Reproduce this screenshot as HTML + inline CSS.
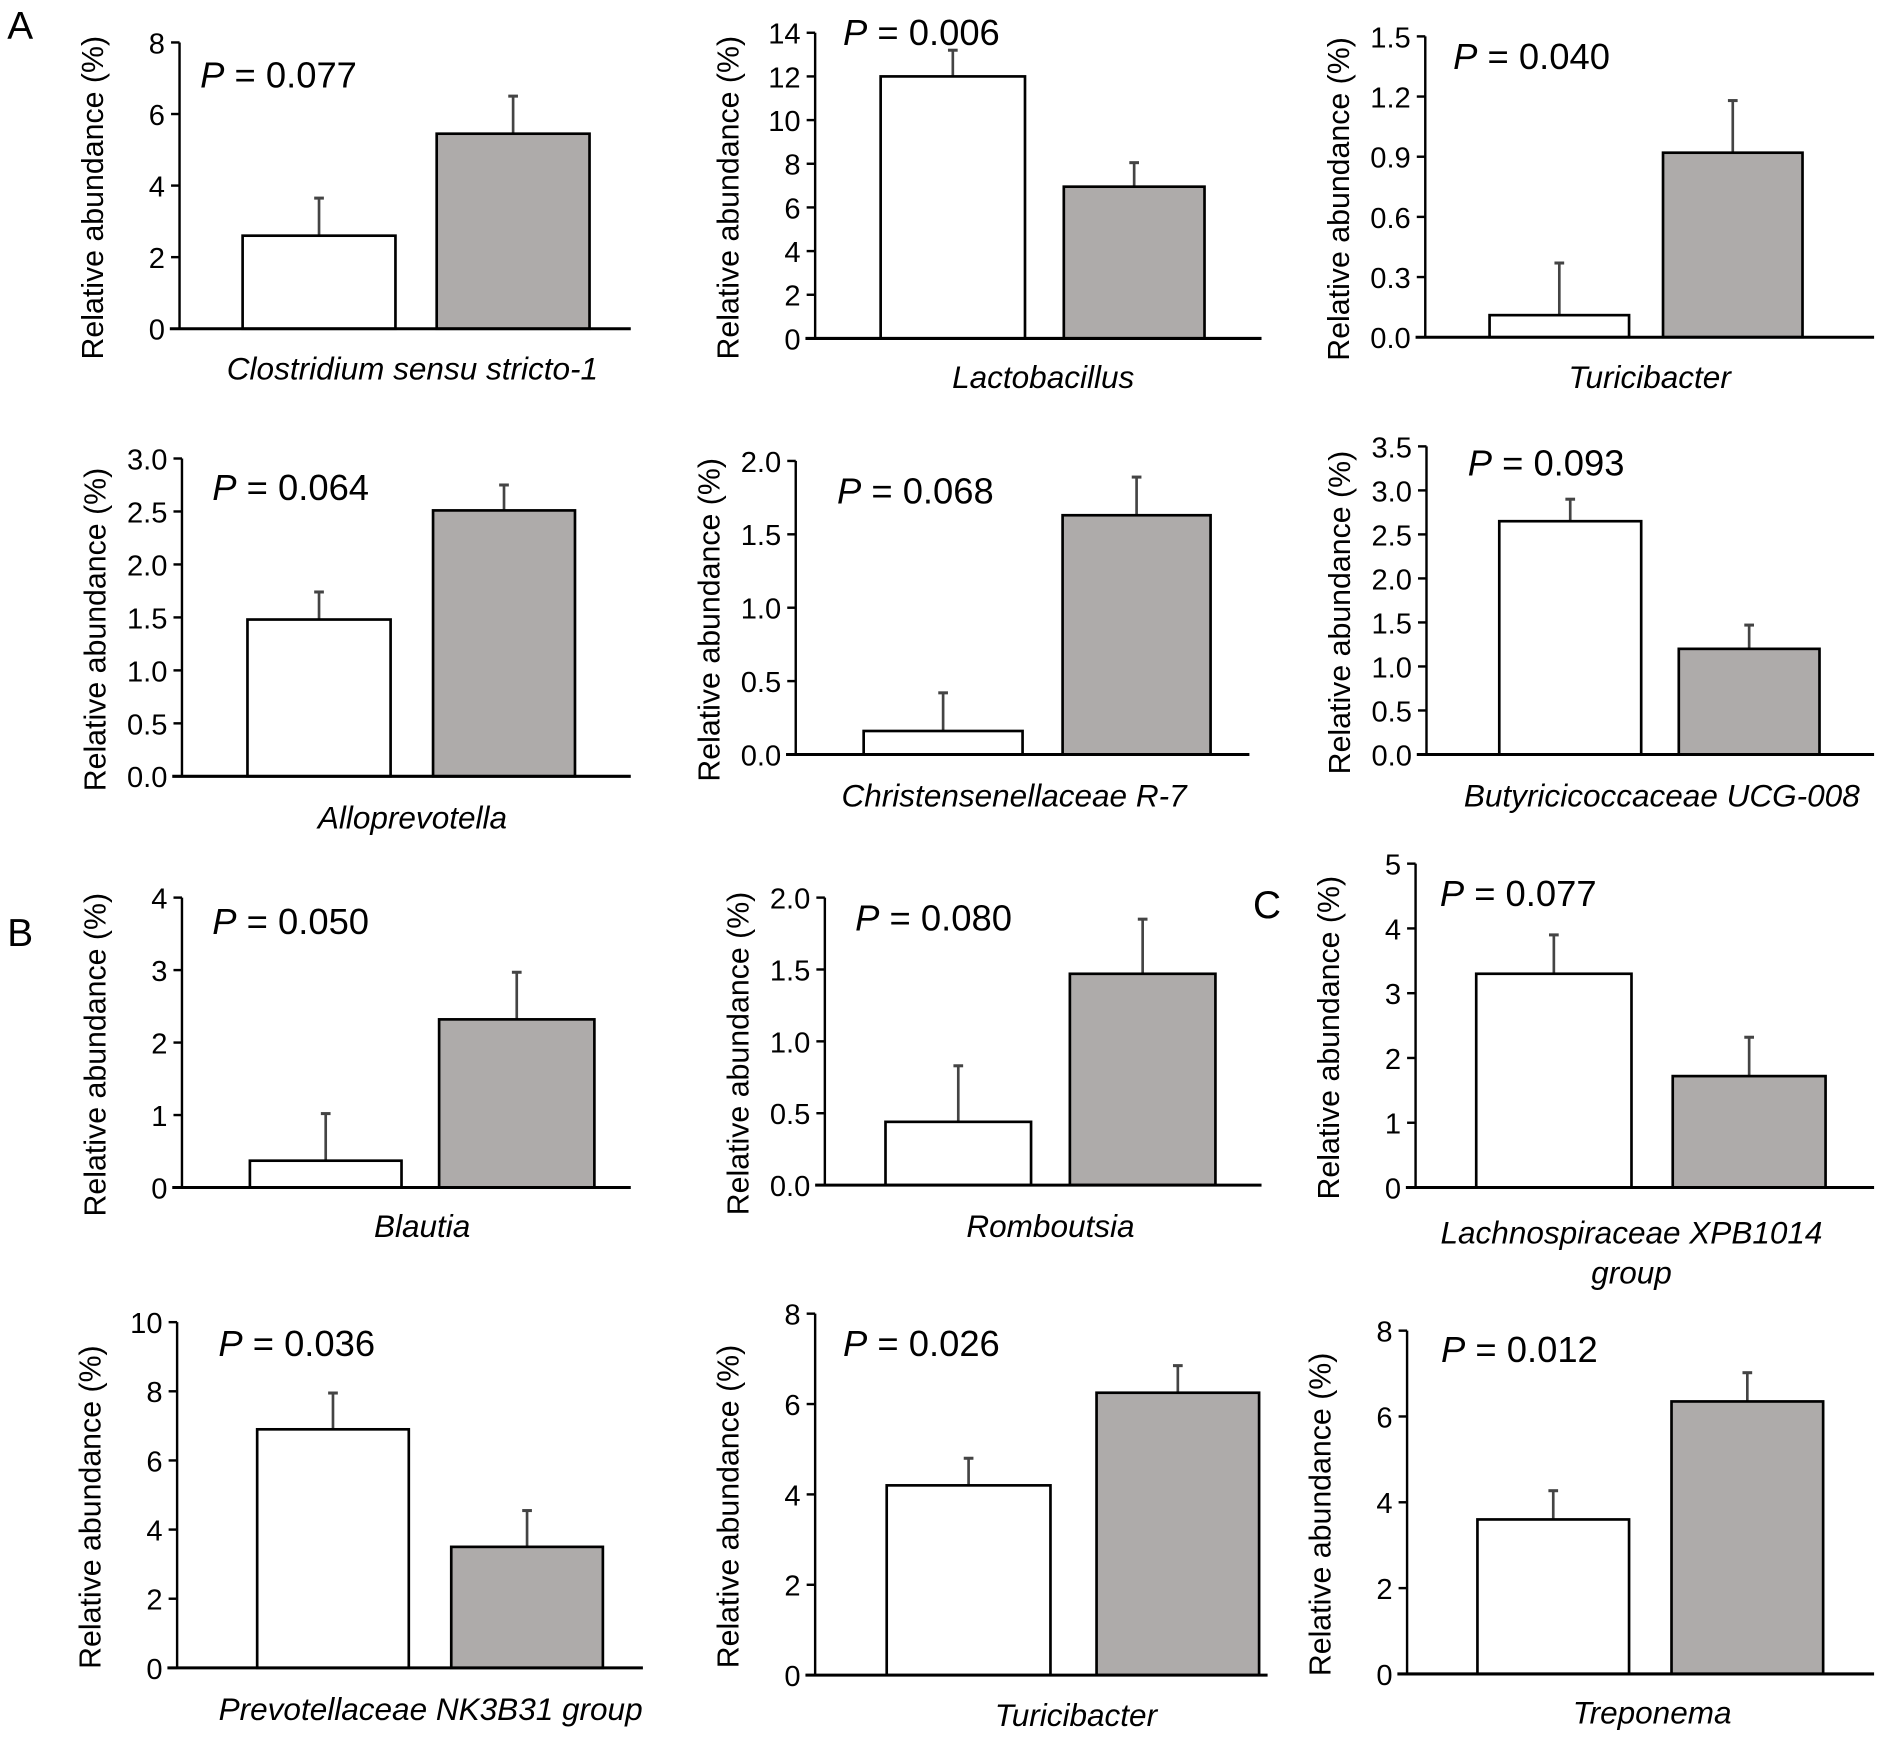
<!DOCTYPE html>
<html><head><meta charset="utf-8"><style>
html,body{margin:0;padding:0;background:#fff}
svg{display:block}
text{font-family:"Liberation Sans",Arial,sans-serif;fill:#000}
</style></head><body>
<svg id="fig" width="1902" height="1737" viewBox="0 0 1568 1432" xmlns="http://www.w3.org/2000/svg">
<text x="6" y="32" font-size="32">A</text>
<text x="6" y="780" font-size="32">B</text>
<text x="1033" y="757" font-size="32">C</text>
</svg>
<script>
const taxa = ["Clostridium sensu stricto-1","Lactobacillus","Turicibacter","Alloprevotella","Christensenellaceae R-7","Butyricicoccaceae UCG-008","Blautia","Romboutsia","Lachnospiraceae XPB1014|group","Prevotellaceae NK3B31 group","Turicibacter","Treponema"];
const pValues = ["0.077","0.006","0.040","0.064","0.068","0.093","0.050","0.080","0.077","0.036","0.026","0.012"];
const controlMeans = [2.6,12.0,0.11,1.48,0.16,2.65,0.37,0.44,3.3,6.9,4.2,3.6];
const controlErr = [1.05,1.2,0.26,0.26,0.26,0.25,0.65,0.39,0.6,1.05,0.6,0.67];
const treatMeans = [5.45,6.95,0.92,2.51,1.63,1.2,2.32,1.47,1.72,3.5,6.25,6.35];
const treatErr = [1.05,1.1,0.26,0.24,0.26,0.27,0.65,0.38,0.6,1.05,0.6,0.67];
const yMax = [8,14,1.5,3.0,2.0,3.5,4,2.0,5,10,8,8];
const yStep = [2,2,0.3,0.5,0.5,0.5,1,0.5,1,2,2,2];
const yDecimals = [0,0,1,1,1,1,0,1,0,0,0,0];

// layout (not data)
const L = [
 {ax:148,top:35,bot:271,xe:520,b1:[200,326],b2:[360,486],px:165,py:72,lx:340,ly:313},
 {ax:672,top:27,bot:279,xe:1040,b1:[726,845],b2:[877,993],px:695,py:37,lx:860,ly:320},
 {ax:1175,top:30,bot:278,xe:1545,b1:[1228,1343],b2:[1371,1486],px:1198,py:57,lx:1360,ly:320},
 {ax:150,top:378,bot:640,xe:520,b1:[204,322],b2:[357,474],px:175,py:412,lx:340,ly:683},
 {ax:656,top:380,bot:622,xe:1030,b1:[712,843],b2:[876,998],px:690,py:415,lx:836,ly:665},
 {ax:1176,top:368,bot:622,xe:1545,b1:[1236,1353],b2:[1384,1500],px:1210,py:392,lx:1370,ly:665},
 {ax:150,top:740,bot:979,xe:520,b1:[206,331],b2:[362,490],px:175,py:770,lx:348,ly:1020},
 {ax:680,top:740,bot:977,xe:1040,b1:[730,850],b2:[882,1002],px:705,py:767,lx:866,ly:1020},
 {ax:1167,top:712,bot:979,xe:1545,b1:[1217,1345],b2:[1379,1505],px:1187,py:747,lx:1345,ly:1025},
 {ax:146,top:1090,bot:1375,xe:530,b1:[212,337],b2:[372,497],px:180,py:1118,lx:355,ly:1418},
 {ax:672,top:1083,bot:1381,xe:1045,b1:[731,866],b2:[904,1038],px:695,py:1118,lx:887,ly:1423},
 {ax:1160,top:1097,bot:1380,xe:1545,b1:[1218,1343],b2:[1378,1503],px:1188,py:1123,lx:1362,ly:1421}
];
const NS="http://www.w3.org/2000/svg";
const svg=document.getElementById('fig');
function mk(tag,attrs,parent){const e=document.createElementNS(NS,tag);for(const k in attrs)e.setAttribute(k,attrs[k]);(parent||svg).appendChild(e);return e;}
taxa.forEach((name,i)=>{
  const l=L[i];
  const g=mk('g',{});
  
  
  const y=v=>l.bot-(v/yMax[i])*(l.bot-l.top);
  [[controlMeans,controlErr,l.b1,'#fff','control'],[treatMeans,treatErr,l.b2,'#aeabaa','treatment']].forEach(([m,e,b,fill,nm])=>{
    const top=y(m[i]), et=y(m[i]+e[i]), cx=(b[0]+b[1])/2;
    const ln=mk('line',{x1:cx,x2:cx,y1:top,y2:et,stroke:'#444','stroke-width':2.2},g);
    
    
    const cap=mk('line',{x1:cx-4,x2:cx+4,y1:et,y2:et,stroke:'#444','stroke-width':2.5},g);
    
    
    const r=mk('rect',{x:b[0],y:top,width:b[1]-b[0],height:l.bot-top,fill:fill,stroke:'#000','stroke-width':2.2},g);
    
    
  });
  const ya=mk('line',{x1:l.ax,x2:l.ax,y1:l.top,y2:l.bot,stroke:'#000','stroke-width':2},g);
  
  
  const xa=mk('line',{x1:l.ax-8,x2:l.xe,y1:l.bot,y2:l.bot,stroke:'#000','stroke-width':2.5},g);
  
  
  const n=Math.round(yMax[i]/yStep[i]);
  for(let k=0;k<=n;k++){
    const v=k*yStep[i], ty=y(v);
    const t=mk('line',{x1:l.ax-7,x2:l.ax,y1:ty,y2:ty,stroke:'#000','stroke-width':2},g);
    
    
    const tl=mk('text',{x:l.ax-12,y:ty+9,'font-size':24,'text-anchor':'end'},g);
    tl.textContent=v.toFixed(yDecimals[i]);
    
    
  }
  const yt=mk('text',{x:0,y:0,'font-size':25,'text-anchor':'middle',transform:`translate(${l.ax-63},${(l.top+l.bot)/2+10}) rotate(-90)`},g);
  yt.textContent='Relative abundance (%)';
  
  
  const p=mk('text',{x:l.px,y:l.py,'font-size':30},g);
  p.innerHTML='<tspan font-style="italic">P</tspan> = '+pValues[i];
  
  
  name.split('|').forEach((s,j)=>{
    const xl=mk('text',{x:l.lx,y:l.ly+j*33,'font-size':26,'font-style':'italic','text-anchor':'middle'},g);
    xl.textContent=s;
    
    
  });
});
</script>
</body></html>
